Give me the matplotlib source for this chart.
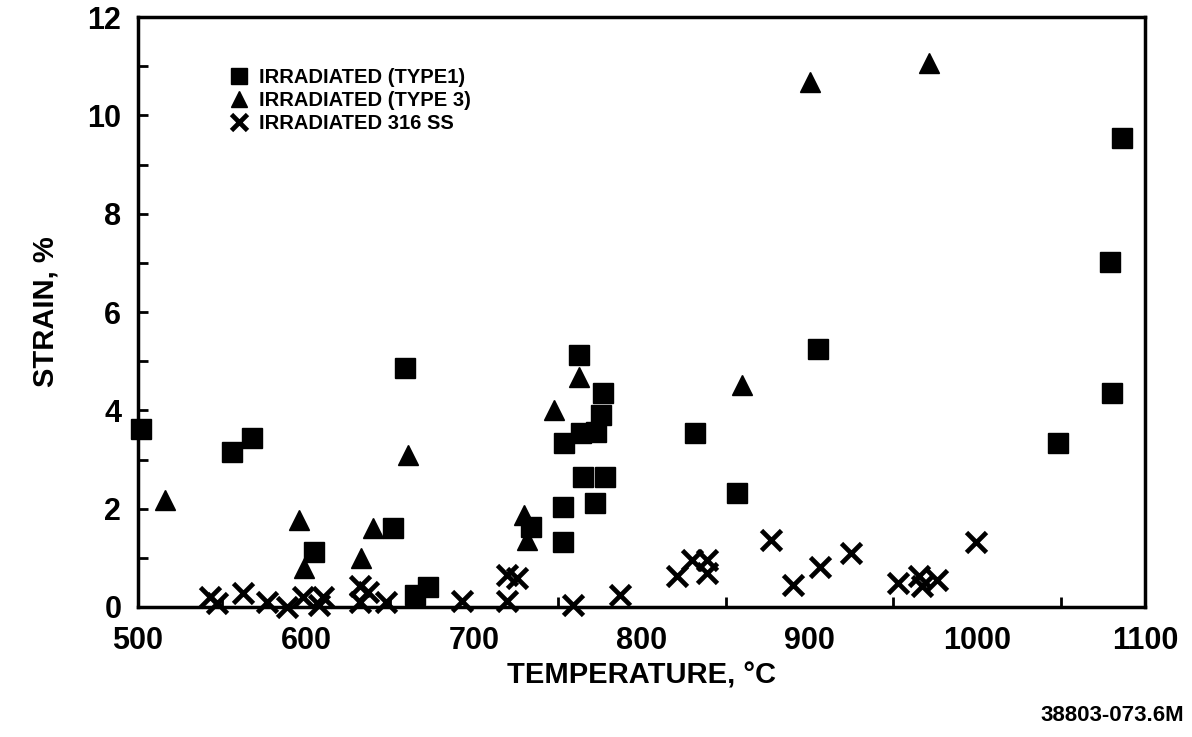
import matplotlib
matplotlib.use("Agg")
import matplotlib.pyplot as plt
from matplotlib.ticker import MultipleLocator

# Data
type1_temp = [502, 556, 568, 605, 652, 659, 665, 673, 734, 753, 753, 754, 762.5,
              764, 765, 772, 773, 777, 776, 778, 832, 857, 905, 1048, 1079, 1080, 1086]
type1_strain = [3.62, 3.15, 3.43, 1.12, 1.6, 4.86, 0.24, 0.41, 1.63, 2.03, 1.32, 3.33, 5.12,
                3.54, 2.64, 2.11, 3.56, 4.35, 3.9, 2.64, 3.54, 2.32, 5.24, 3.33, 7.01, 4.35, 9.53]

type3_temp = [516, 596, 599, 633, 640, 661, 730, 731.5, 748, 762.5, 860, 900, 971]
type3_strain = [2.17, 1.77, 0.79, 1.0, 1.6, 3.09, 1.87, 1.36, 4.0, 4.68, 4.51, 10.67, 11.06]

ss316_temp = [543, 547, 562.5, 577, 589, 598, 608, 610, 632, 637, 632, 648,
              693, 720, 726, 720, 759, 787, 821, 830, 839, 839, 877, 890,
              906, 925, 953, 965, 967, 976, 999]
ss316_strain = [0.2, 0.08, 0.28, 0.1, 0.0, 0.2, 0.05, 0.2, 0.42, 0.3, 0.1, 0.1,
                0.12, 0.65, 0.58, 0.12, 0.04, 0.25, 0.63, 0.96, 0.96, 0.69, 1.36, 0.45,
                0.81, 1.1, 0.49, 0.63, 0.43, 0.55, 1.32]

legend_labels = ["IRRADIATED (TYPE1)", "IRRADIATED (TYPE 3)", "IRRADIATED 316 SS"]
x_ticks = [500, 600, 700, 800, 900, 1000, 1100]
y_ticks = [0, 2, 4, 6, 8, 10, 12]

plt.rcParams['font.family'] = ['Liberation Sans', 'DejaVu Sans']
plt.rcParams['font.weight'] = 'bold'

fig = plt.figure(figsize=(11.92, 7.37), dpi=100)
ax = fig.add_axes([0.1158, 0.1764, 0.845, 0.8005])

ax.plot(type1_temp, type1_strain, linestyle='none', marker='s', color='black',
        markersize=14, clip_on=False, label=legend_labels[0])
ax.plot(type3_temp, type3_strain, linestyle='none', marker='^', color='black',
        markersize=15, clip_on=False, label=legend_labels[1])
ax.plot(ss316_temp, ss316_strain, linestyle='none', marker='x', color='black',
        markersize=14, markeredgewidth=3.4, clip_on=False, label=legend_labels[2])

ax.set_xlim(500, 1100)
ax.set_ylim(0, 12)
ax.set_xticks(x_ticks)
ax.set_yticks(y_ticks)
ax.xaxis.set_minor_locator(MultipleLocator(50))
ax.yaxis.set_minor_locator(MultipleLocator(1))
ax.tick_params(axis='both', which='both', direction='in', top=False, right=False,
               width=2, labelsize=22)
ax.tick_params(axis='both', which='minor', length=7)
ax.tick_params(axis='x', which='major', length=0, pad=14)
ax.tick_params(axis='y', which='major', length=7, pad=12)
for lbl in ax.get_xticklabels() + ax.get_yticklabels():
    lbl.set_fontweight('bold')
for sp in ax.spines.values():
    sp.set_linewidth(2.5)

ax.set_xlabel("TEMPERATURE, °C", fontsize=21, fontweight='bold', labelpad=4)
ax.set_ylabel("STRAIN, %", fontsize=21, fontweight='bold', labelpad=20)

leg = ax.legend(loc='upper left', bbox_to_anchor=(0.072, 0.945), frameon=False,
                prop={'size': 14.5, 'weight': 'bold'}, handletextpad=0.5,
                labelspacing=0.22, markerscale=0.8, handlelength=1.0)

fig.text(0.993, 0.015, "38803-073.6M", ha='right', va='bottom', fontsize=16,
         fontweight='bold')

fig.savefig("out.png", dpi=100)
